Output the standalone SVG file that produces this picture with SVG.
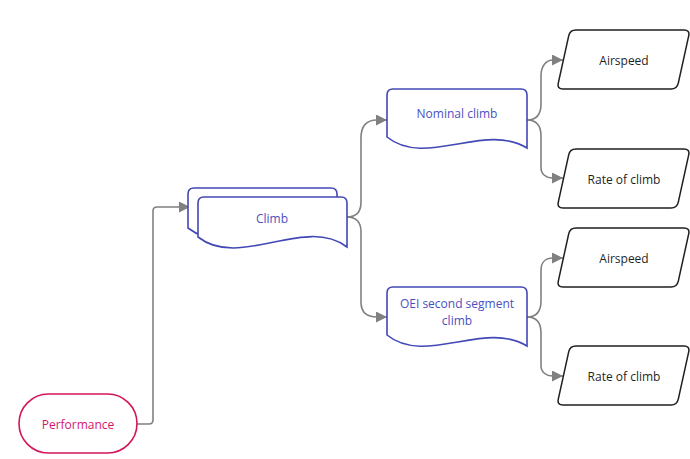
<svg xmlns="http://www.w3.org/2000/svg" width="690" height="459" viewBox="0 0 690 459">
<defs>
<marker id="arr" markerUnits="userSpaceOnUse" markerWidth="12" markerHeight="12" refX="11" refY="5.5" orient="auto">
<path d="M0,0 L11,5.5 L0,11 Z" fill="#808080"/>
</marker>
<path id="para" d="M576,0 L684,0 Q690,0 688.7,5.9 L678.3,53.1 Q677,59 671,59 L563,59 Q557,59 558.3,53.1 L568.7,5.9 Q570,0 576,0 Z"/>
</defs>
<style>
text{font-family:"Open Sans","Noto Sans",sans-serif;font-size:12px;text-anchor:middle;dominant-baseline:central}
.blue{fill:#fff;stroke:#4248b5;stroke-width:1.6}
.bt{fill:#4a50c0}
.blk{fill:#fff;stroke:#1f1f1f;stroke-width:1.5}
.kt{fill:#1f1f1f}
.conn path{fill:none;stroke:#808080;stroke-width:1.6;marker-end:url(#arr)}
</style>
<rect width="690" height="459" fill="#fff"/>
<g class="conn">
<path d="M137,424 L149,424 Q153,424 153,420 L153,211 Q153,207 157,207 L190,207"/>
<path d="M347,217 C357,217 361,212 361,202 L361,138 C361,126 366,120 377,120 L387,120"/>
<path d="M347,217 C357,217 361,222 361,232 L361,302 C361,312 366,317 377,317 L387,317"/>
<path d="M527,120 C537,120 541,114 541,104 L541,76 C541,66 546,60 553,60 L563,60"/>
<path d="M527,120 C537,120 541,126 541,136 L541,168 C541,174 546,178 553,178 L563,178"/>
<path d="M527,317 C537,317 541,311 541,301 L541,270 C541,262 546,258 553,258 L563,258"/>
<path d="M527,317 C537,317 541,323 541,333 L541,366 C541,372 546,376 553,376 L563,376"/>
</g>
<g id="performance">
<rect x="19" y="394" width="118" height="59" rx="29.5" fill="#fff" stroke="#d4145a" stroke-width="1.6"/>
<text x="78" y="424" fill="#d6156c">Performance</text>
</g>
<g id="climb">
<path class="blue" d="M188,194 Q188,188 194,188 L331,188 Q337,188 337,194 L337,238 C295,206 230,261 188,228 Z"/>
<path class="blue" d="M198,203 Q198,197 204,197 L341,197 Q347,197 347,203 L347,247 C305,215 240,270 198,237 Z"/>
<text class="bt" x="272" y="218">Climb</text>
</g>
<g id="nominal">
<path class="blue" d="M387,95 Q387,89 393,89 L521,89 Q527,89 527,95 L527,148 C485,122 425,168 387,137 Z"/>
<text class="bt" x="457" y="113">Nominal climb</text>
</g>
<g id="oei">
<path class="blue" d="M387,293 Q387,287 393,287 L521,287 Q527,287 527,293 L527,346 C485,320 425,366 387,335 Z"/>
<text class="bt" x="457" y="303">OEI second segment</text>
<text class="bt" x="457" y="320">climb</text>
</g>
<g id="airspeed1">
<use href="#para" class="blk" transform="translate(0,30)"/>
<text class="kt" x="624" y="60">Airspeed</text>
</g>
<g id="rate1">
<use href="#para" class="blk" transform="translate(0,149)"/>
<text class="kt" x="624" y="179">Rate of climb</text>
</g>
<g id="airspeed2">
<use href="#para" class="blk" transform="translate(0,228)"/>
<text class="kt" x="624" y="258">Airspeed</text>
</g>
<g id="rate2">
<use href="#para" class="blk" transform="translate(0,346)"/>
<text class="kt" x="624" y="376">Rate of climb</text>
</g>
</svg>
